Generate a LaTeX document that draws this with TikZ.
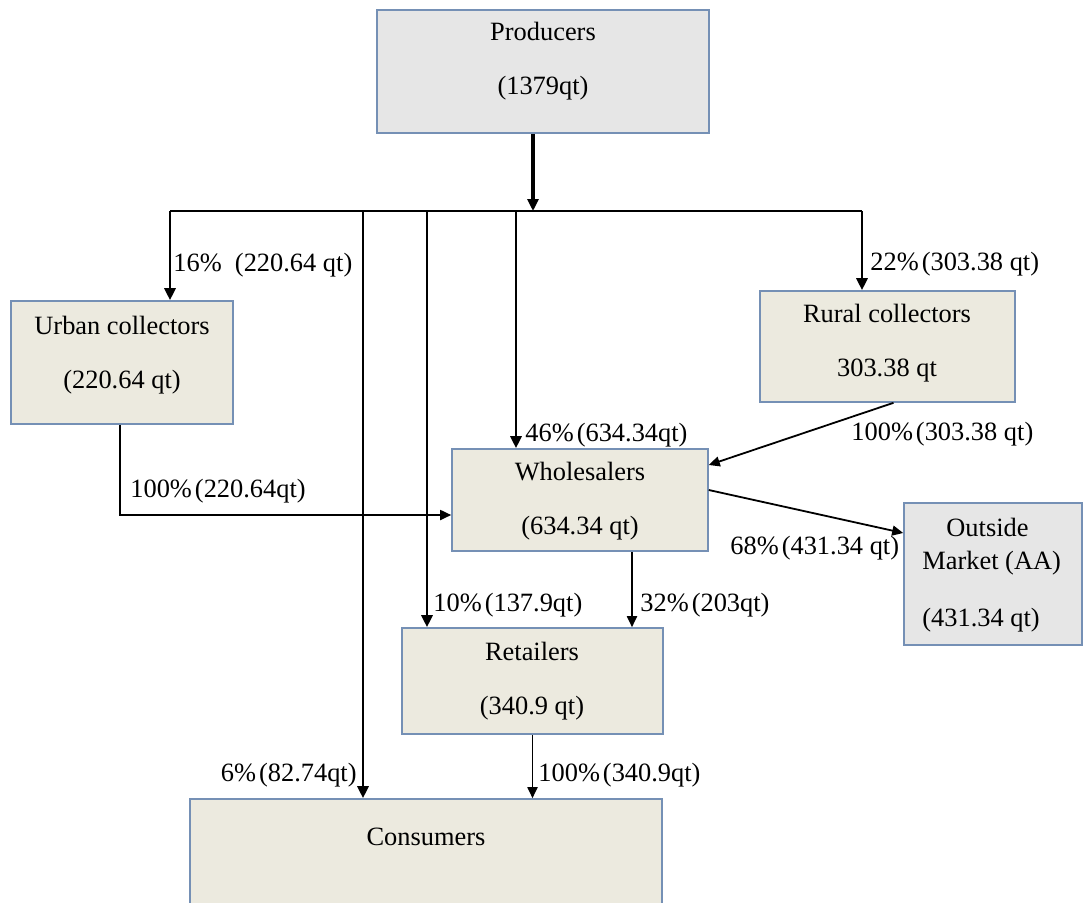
\documentclass[tikz,border=0pt]{standalone}
\usepackage{fontspec}
\setmainfont{Liberation Serif}
\usepackage{xcolor}
\usetikzlibrary{arrows.meta, positioning, calc}
\definecolor{boxline}{HTML}{7590B5}
\definecolor{beige}{HTML}{ECEADF}
\definecolor{greybox}{HTML}{E6E6E6}
\newcommand{\pc}{\%\kern1.5pt}

\begin{document}
\begin{tikzpicture}[
    x=0.5pt, y=-0.5pt,
    box/.style={draw=boxline, line width=0.8pt, fill=beige, inner sep=0pt},
    gbox/.style={box, fill=greybox},
    txt/.style={align=center, inner sep=0pt, font=\fontsize{13.2}{27}\selectfont},
    lbl/.style={anchor=west, inner sep=0pt, font=\fontsize{13.2}{16}\selectfont},
    arr/.style={-{Triangle[length=5.5pt, width=5pt]}, line width=0.9pt},
    arrbus/.style={-{Triangle[length=6pt, width=5.5pt]}, line width=1.4pt},
    busline/.style={line width=1.4pt},
]
\useasboundingbox (0,0) rectangle (1084,902);

% Boxes
\node[gbox, minimum width=166pt, minimum height=61.5pt] (prod) at (543,71.5) {};
\node[box, minimum width=111pt, minimum height=61.5pt] (urban) at (122,362.5) {};
\node[box, minimum width=127.5pt, minimum height=55.5pt] (rural) at (887.5,346.5) {};
\node[box, minimum width=128pt, minimum height=51pt] (whole) at (580,500) {};
\node[gbox, minimum width=89pt, minimum height=71pt] (outm) at (993,574) {};
\node[box, minimum width=130.5pt, minimum height=53pt] (ret) at (532.5,681) {};
\node[box, minimum width=236pt, minimum height=81pt] (cons) at (426,880) {};

% Box texts
\node[txt] (prodtxt) at (543,61.5) {Producers\\(1379qt)};
\node[txt] (urbantxt) at (122,355) {Urban collectors\\(220.64 qt)};
\node[txt] (ruraltxt) at (887,343.5) {Rural collectors\\303.38 qt};
\node[txt] (wholetxt) at (580,501.5) {Wholesalers\\(634.34 qt)};
\node[txt] (rettxt) at (532,681.5) {Retailers\\(340.9 qt)};
\node[txt] (constxt) at (426,837) {Consumers};
\node[lbl, align=left, font=\fontsize{13.2}{16.5}\selectfont] (outmtxt) at (922,575)
    {\hspace*{12pt}Outside\\Market (AA)\\[12pt](431.34 qt)};

% Distribution bus
\coordinate (bus) at (533,211);
\coordinate (busL) at (170,211);
\coordinate (busR) at (862,211);
\coordinate (dcons) at (363,211);
\coordinate (dret) at (427,211);
\coordinate (dwhole) at (516,211);

\draw[arrbus, line width=1.7pt] (prod.south -| bus) -- (bus);
\draw[busline] (busL) -- (busR);
\draw[arrbus] (busL) -- (busL |- urban.north);
\draw[arrbus] (dcons) -- (dcons |- cons.north);
\draw[arrbus] (dret) -- (dret |- ret.north);
\draw[arrbus] (dwhole) -- (dwhole |- whole.north);
\draw[arrbus] (busR) -- (busR |- rural.north);

% Flows between traders
\draw[arr] ([xshift=-1pt]urban.south) |- ([yshift=-7.5pt]whole.west);
\draw[arr] ([xshift=3pt]rural.south) -- ([yshift=17.5pt]whole.east);
\draw[arr] ([yshift=5pt]whole.east) -- ([yshift=20.5pt]outm.west);
\draw[arr] ([xshift=26pt]whole.south) -- ([xshift=26pt]whole.south |- ret.north);
\draw[arr] (ret.south) -- (ret.south |- cons.north);

% Shares
\node[lbl] (lurban) at (173,265) {16\%\ \ (220.64 qt)};
\node[lbl] (lrural) at (870,264) {22\pc(303.38 qt)};
\node[lbl] (lwhole) at (525,435) {46\pc(634.34qt)};
\node[lbl] (lrw) at (851,434) {100\pc(303.38 qt)};
\node[lbl] (luw) at (130,491) {100\pc(220.64qt)};
\node[lbl] (lout) at (730,548) {68\pc(431.34 qt)};
\node[lbl] (lret) at (433,605) {10\pc(137.9qt)};
\node[lbl] (lwr) at (640,605) {32\pc(203qt)};
\node[lbl, anchor=east] (lcons) at (357,775) {6\pc(82.74qt)};
\node[lbl] (lrc) at (538,775) {100\pc(340.9qt)};

\end{tikzpicture}
\end{document}
